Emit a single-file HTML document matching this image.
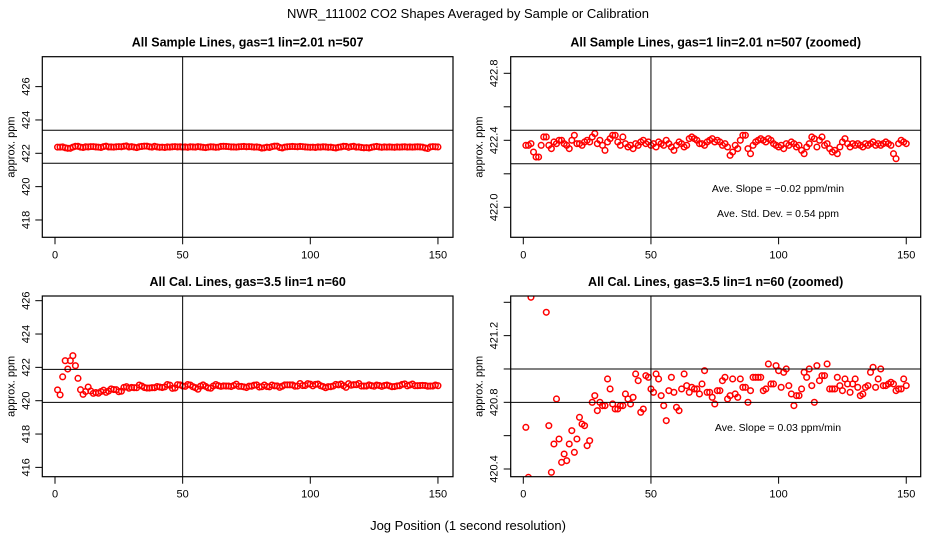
<!DOCTYPE html>
<html><head><meta charset="utf-8"><style>
html,body{margin:0;padding:0;background:#fff;}
svg{display:block;font-family:"Liberation Sans",Arial,sans-serif;}
</style></head><body>
<svg id="chart" width="936" height="540" viewBox="0 0 936 540" xmlns="http://www.w3.org/2000/svg">
<rect width="936" height="540" fill="#fff"/>
<text x="468" y="18" font-size="13" text-anchor="middle">NWR_111002  CO2 Shapes Averaged by Sample or Calibration</text>
<text x="468" y="530" font-size="13" text-anchor="middle">Jog Position (1 second resolution)</text>
</svg>
<script>
const positions = Array.from({length:150},(_, i)=>i+1);
const sampleValues = [422.37,422.37,422.38,422.33,422.30,422.30,422.37,422.42,422.42,422.37,422.35,422.39,422.38,422.40,422.40,422.38,422.37,422.35,422.40,422.43,422.38,422.38,422.37,422.39,422.40,
422.39,422.42,422.44,422.38,422.40,422.37,422.34,422.39,422.41,422.43,422.43,422.39,422.37,422.42,422.38,422.36,422.37,422.35,422.38,422.37,422.39,422.40,422.38,422.39,422.37,
422.38,422.36,422.39,422.38,422.37,422.40,422.38,422.36,422.34,422.37,422.39,422.38,422.36,422.37,422.41,422.42,422.41,422.40,422.38,422.38,422.37,422.39,422.40,422.41,422.39,
422.40,422.39,422.37,422.38,422.36,422.31,422.33,422.37,422.35,422.40,422.43,422.43,422.35,422.32,422.37,422.39,422.40,422.41,422.40,422.39,422.41,422.40,422.38,422.37,422.36,
422.37,422.35,422.38,422.37,422.39,422.38,422.36,422.37,422.34,422.32,422.36,422.38,422.42,422.41,422.36,422.40,422.42,422.37,422.38,422.35,422.33,422.34,422.32,422.36,422.39,
422.41,422.38,422.36,422.38,422.37,422.38,422.37,422.36,422.38,422.37,422.38,422.39,422.37,422.38,422.37,422.38,422.39,422.38,422.37,422.32,422.29,422.38,422.40,422.39,422.38];
const calValues = [420.65,420.35,421.43,422.4,421.9,422.4,422.7,422.1,421.34,420.66,420.38,420.55,420.82,420.58,420.44,420.49,420.45,420.55,420.63,420.50,
420.58,420.71,420.67,420.66,420.54,420.57,420.80,420.84,420.75,420.80,420.78,420.78,420.94,420.88,420.79,420.76,420.76,420.78,420.78,420.85,
420.82,420.79,420.83,420.97,420.93,420.74,420.76,420.96,420.95,420.88,420.86,420.97,420.94,420.84,420.78,420.69,420.87,420.95,420.86,420.77,
420.75,420.88,420.97,420.90,420.86,420.89,420.88,420.88,420.85,420.91,420.99,420.86,420.86,420.83,420.79,420.87,420.87,420.93,420.95,420.82,
420.84,420.94,420.85,420.83,420.94,420.89,420.89,420.80,420.87,420.95,420.95,420.95,420.95,420.87,420.88,421.03,420.91,420.91,421.02,420.99,
420.89,420.98,421.00,420.90,420.85,420.78,420.84,420.84,420.88,420.98,420.95,421.00,420.90,420.80,421.02,420.93,420.96,420.96,421.03,420.88,
420.88,420.88,420.95,420.90,420.87,420.94,420.91,420.86,420.91,420.94,420.89,420.84,420.85,420.89,420.90,420.98,421.01,420.89,420.94,421.00,
420.90,420.90,420.91,420.92,420.91,420.87,420.88,420.88,420.94,420.90];
const xTicks = [0,50,100,150];
const p1Ticks = [418,420,422,424,426];
const p2Ticks = [422.0,422.2,422.4,422.6,422.8];
const p2Labels = ["422.0","","422.4","","422.8"];
const p3Ticks = [416,418,420,422,424,426];
const p4Ticks = [420.4,420.6,420.8,421.0,421.2,421.4];
const p4Labels = ["420.4","","420.8","","421.2",""];
const p1Lines = [423.38,421.4];
const p2Lines = [422.46,422.26];
const p3Lines = [421.88,419.9];
const p4Lines = [421.0,420.8];

const svg = document.getElementById('chart');
const NS = 'http://www.w3.org/2000/svg';
function mk(tag, attrs, parent){const e=document.createElementNS(NS,tag);for(const k in attrs)e.setAttribute(k,attrs[k]);(parent||svg).appendChild(e);return e;}

function panel(cfg){
  const g = mk('g',{});
  
  
  const xs = v => cfg.x0 + v*2.553;
  const ys = v => cfg.yRef - (v-cfg.vRef)*cfg.k;
  const t = mk('text',{x:(cfg.l+cfg.r)/2,y:cfg.t-10,'font-size':12.5,'font-weight':'bold','text-anchor':'middle'},g);
  t.textContent = cfg.title;
  
  
  const cid = cfg.name+'-clip';
  const cp = mk('clipPath',{id:cid},g);
  mk('rect',{x:cfg.l,y:cfg.t,width:cfg.r-cfg.l,height:cfg.b-cfg.t},cp);
  const pts = mk('g',{'clip-path':'url(#'+cid+')'},g);
  cfg.values.forEach((v,i)=>{
    const c = mk('circle',{cx:xs(positions[i]),cy:ys(v),r:2.8,fill:'none',stroke:'#ff0000','stroke-width':1.5},pts);
    
    
  });
  const vl = mk('line',{x1:xs(50),x2:xs(50),y1:cfg.t,y2:cfg.b,stroke:'#000','stroke-width':1},g);
  
  
  cfg.lines.forEach(v=>{
    const hl = mk('line',{x1:cfg.l,x2:cfg.r,y1:ys(v),y2:ys(v),stroke:'#000','stroke-width':1},g);
    
    
  });
  const box = mk('rect',{x:cfg.l,y:cfg.t,width:cfg.r-cfg.l,height:cfg.b-cfg.t,fill:'none',stroke:'#000','stroke-width':1.2},g);
  
  
  xTicks.forEach(v=>{
    mk('line',{x1:xs(v),x2:xs(v),y1:cfg.b,y2:cfg.b+7,stroke:'#000'},g);
    const tl = mk('text',{x:xs(v),y:cfg.b+21,'font-size':11,'text-anchor':'middle'},g);
    tl.textContent = v;
    
    
  });
  cfg.yTicks.forEach((v,i)=>{
    const y = ys(v);
    mk('line',{x1:cfg.l-7,x2:cfg.l,y1:y,y2:y,stroke:'#000'},g);
    const lab = cfg.yLabels ? cfg.yLabels[i] : String(v);
    if(lab){
      const tl = mk('text',{x:0,y:0,'font-size':11,'text-anchor':'middle',transform:'translate('+(cfg.l-13)+','+y+') rotate(-90)'},g);
      tl.textContent = lab;
      
      
    }
  });
  const yl = mk('text',{x:0,y:0,'font-size':11,'text-anchor':'middle',transform:'translate('+(cfg.l-28)+','+((cfg.t+cfg.b)/2)+') rotate(-90)'},g);
  yl.textContent = 'approx. ppm';
  
  
  (cfg.notes||[]).forEach(n=>{
    const nt = mk('text',{x:778,y:n[1],'font-size':10.5,'text-anchor':'middle'},g);
    nt.textContent = n[0];
    
    
  });
}

panel({name:'panel-sample',title:'All Sample Lines, gas=1 lin=2.01 n=507',l:42.3,t:56.7,r:453,b:237.3,x0:55,yRef:153.3,vRef:422,k:16.67,values:sampleValues,lines:p1Lines,yTicks:p1Ticks});
panel({name:'panel-sample-zoomed',title:'All Sample Lines, gas=1 lin=2.01 n=507 (zoomed)',l:510.7,t:56.7,r:920.7,b:237.3,x0:523.3,yRef:207.3,vRef:422.0,k:167.5,values:sampleValues,lines:p2Lines,yTicks:p2Ticks,yLabels:p2Labels,
  notes:[['Ave. Slope =  \u22120.02  ppm/min',192],['Ave. Std. Dev. =  0.54  ppm',217]]});
panel({name:'panel-cal',title:'All Cal. Lines, gas=3.5 lin=1 n=60',l:42.3,t:296,r:453,b:476.7,x0:55,yRef:400.7,vRef:420,k:16.67,values:calValues,lines:p3Lines,yTicks:p3Ticks});
panel({name:'panel-cal-zoomed',title:'All Cal. Lines, gas=3.5 lin=1 n=60 (zoomed)',l:510.7,t:296,r:920.7,b:476.7,x0:523.3,yRef:469,vRef:420.4,k:166.7,values:calValues,lines:p4Lines,yTicks:p4Ticks,yLabels:p4Labels,
  notes:[['Ave. Slope =  0.03  ppm/min',431]]});
</script>
</body></html>
